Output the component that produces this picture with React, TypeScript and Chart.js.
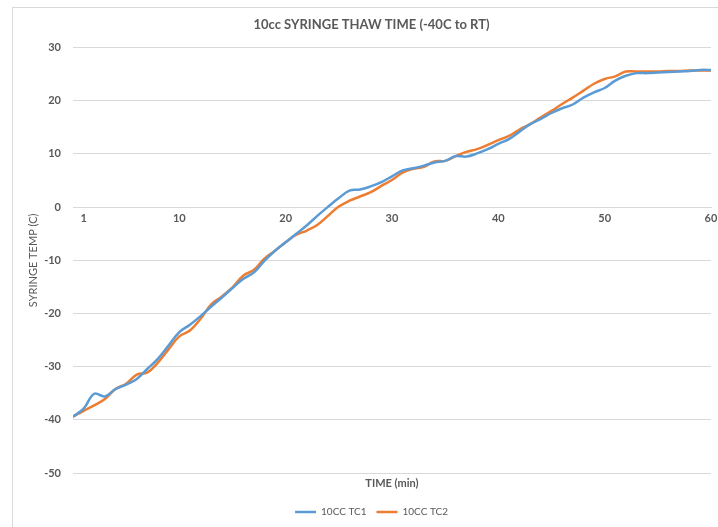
import React, { useEffect, useRef } from "react";
import { Chart, registerables } from "chart.js";

Chart.register(...registerables);

const minutes: number[] = [
  0, 1, 2, 3, 4, 5, 6, 7, 8, 9,
  10, 11, 12, 13, 14, 15, 16, 17, 18, 19,
  20, 21, 22, 23, 24, 25, 26, 27, 28, 29,
  30, 31, 32, 33, 34, 35, 36, 37, 38, 39,
  40, 41, 42, 43, 44, 45, 46, 47, 48, 49,
  50, 51, 52, 53, 54, 55, 56, 57, 58, 59, 60,
];

const tc1: number[] = [
  -39.4, -37.9, -35.1, -35.6, -34.2, -33.4, -32.3, -30.4, -28.5, -26.0,
  -23.5, -22.1, -20.5, -18.7, -17.0, -15.2, -13.5, -12.3, -10.1, -8.2,
  -6.6, -5.0, -3.4, -1.6, 0.1, 1.7, 3.1, 3.3, 3.9, 4.7,
  5.8, 6.9, 7.3, 7.8, 8.4, 8.7, 9.6, 9.5, 10.1, 10.9,
  11.9, 12.8, 14.2, 15.6, 16.6, 17.7, 18.6, 19.3, 20.6, 21.6,
  22.4, 23.8, 24.7, 25.2, 25.2, 25.3, 25.4, 25.5, 25.6, 25.8, 25.8,
];

const tc2: number[] = [
  -39.4, -38.3, -37.3, -36.1, -34.2, -33.2, -31.5, -31.1, -29.2, -26.7,
  -24.3, -23.2, -21.0, -18.3, -16.8, -15.1, -12.9, -11.8, -9.7, -8.2,
  -6.6, -5.2, -4.4, -3.3, -1.6, 0.1, 1.2, 2.0, 2.8, 4.0,
  5.1, 6.5, 7.2, 7.6, 8.6, 8.7, 9.6, 10.4, 10.9, 11.7,
  12.6, 13.4, 14.6, 15.6, 16.9, 18.1, 19.4, 20.6, 21.9, 23.2,
  24.1, 24.6, 25.5, 25.5, 25.5, 25.5, 25.6, 25.6, 25.7, 25.7, 25.7,
];

const xTickValues: number[] = [1, 10, 20, 30, 40, 50, 60];
const seriesNames: string[] = ["10CC TC1", "10CC TC2"];

const TEXT = "#595959";
const GRID = "#D9D9D9";
const FONT = "Lato, 'Open Sans', sans-serif";

export default function App() {
  const canvasRef = useRef<HTMLCanvasElement | null>(null);

  useEffect(() => {
    if (!canvasRef.current) return;
    const chart = new Chart(canvasRef.current, {
      type: "line",
      data: {
        datasets: [
          {
            label: seriesNames[0],
            data: minutes.map((m, i) => ({ x: m, y: tc1[i] })),
            borderColor: "#5B9BD5",
            backgroundColor: "#5B9BD5",
            borderWidth: 2.5,
            pointRadius: 0,
            tension: 0.4,
          },
          {
            label: seriesNames[1],
            data: minutes.map((m, i) => ({ x: m, y: tc2[i] })),
            borderColor: "#ED7D31",
            backgroundColor: "#ED7D31",
            borderWidth: 2.5,
            pointRadius: 0,
            tension: 0.4,
          },
        ],
      },
      options: {
        responsive: false,
        animation: false,
        devicePixelRatio: 1,
        layout: { padding: { left: 19, right: 18, top: 0, bottom: 0 } },
        plugins: {
          tooltip: { enabled: false },
          title: {
            display: true,
            text: "10cc SYRINGE THAW TIME (-40C to RT)",
            color: TEXT,
            font: { family: FONT, size: 13, weight: "bold" },
            padding: { top: 9, bottom: 15 },
          },
          legend: {
            position: "bottom",
            labels: {
              usePointStyle: true,
              pointStyle: "line",
              pointStyleWidth: 21,
              color: TEXT,
              font: { family: FONT, size: 10 },
              padding: 10,
            },
          },
        },
        scales: {
          x: {
            type: "linear",
            min: 0,
            max: 60,
            position: { y: 0 } as any,
            afterBuildTicks: (scale: any) => {
              scale.ticks = xTickValues.map((v) => ({ value: v }));
            },
            ticks: {
              color: TEXT,
              font: { family: FONT, size: 11, weight: "bold" },
              padding: 5,
              maxRotation: 0,
              autoSkip: false,
            },
            grid: { display: false, drawTicks: false },
            border: { display: true, color: GRID, width: 1 },
          },
          x2: {
            type: "linear",
            min: 0,
            max: 60,
            position: "bottom",
            ticks: { display: false },
            grid: { display: false, drawTicks: false },
            border: { display: false },
            title: {
              display: true,
              text: "TIME (min)",
              color: TEXT,
              font: { family: FONT, size: 11, weight: "bold" },
              padding: { top: 1, bottom: 7 },
            },
            afterFit: (scale: any) => {
              scale.height = 24;
            },
          },
          y: {
            type: "linear",
            min: -50,
            max: 30,
            ticks: {
              stepSize: 10,
              color: TEXT,
              font: { family: FONT, size: 11, weight: "bold" },
              padding: 12,
            },
            grid: { color: GRID, lineWidth: 1, drawTicks: false },
            border: { display: false },
            title: {
              display: true,
              text: "SYRINGE TEMP (C)",
              color: TEXT,
              font: { family: FONT, size: 11 },
              padding: { top: -5, bottom: 0 },
            },
            afterFit: (scale: any) => {
              scale.width = 41;
            },
          },
        },
      },
    });
    return () => chart.destroy();
  }, []);

  return (
    <div
      style={{
        position: "fixed",
        left: 0,
        top: 0,
        width: 718,
        height: 527,
        overflow: "hidden",
        background: "#ffffff",
      }}
    >
      <div
        style={{
          position: "absolute",
          left: 12,
          top: 7,
          width: 718,
          height: 540,
          border: "1px solid #D9D9D9",
          boxSizing: "border-box",
          background: "#ffffff",
        }}
      >
        <canvas
          ref={canvasRef}
          width={716}
          height={519}
          style={{ display: "block" }}
        />
      </div>
    </div>
  );
}
